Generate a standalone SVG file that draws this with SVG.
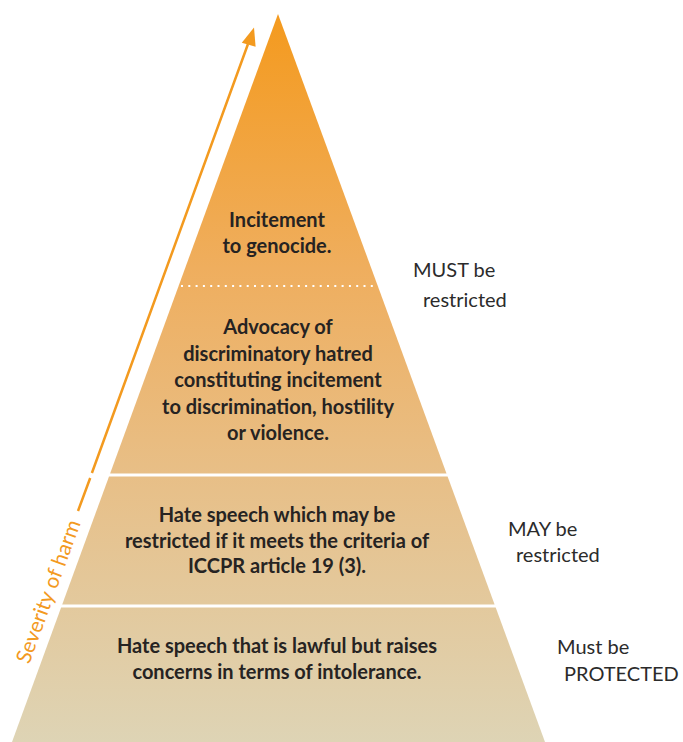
<svg xmlns="http://www.w3.org/2000/svg" width="683" height="742" viewBox="0 0 683 742">
  <style>
    .band { fill: url(#grad); }
    .lbl { font-family: Lato, "Noto Sans", sans-serif; font-weight: bold; font-size: 20px; fill: #262322; text-anchor: middle; }
    .side { font-family: Lato, "Noto Sans", sans-serif; font-size: 20px; fill: #2b2b2b; }
    .axis { font-family: Lato, "Noto Sans", sans-serif; font-size: 21px; fill: #F39A1F; text-anchor: middle; }
    .arrow { stroke: #F39A1F; stroke-width: 2.5; fill: none; }
  </style>
  <defs>
    <linearGradient id="grad" gradientUnits="userSpaceOnUse" x1="0" y1="14" x2="0" y2="742">
      <stop offset="0" stop-color="#F49A1E"/>
      <stop offset="0.35" stop-color="#EFAE5E"/>
      <stop offset="0.62" stop-color="#E8BE85"/>
      <stop offset="1" stop-color="#DED4B5"/>
    </linearGradient>
  </defs>
  <rect width="683" height="742" fill="#ffffff"/>

  <g id="band-genocide">
    <polygon class="band" points="278,14 377.8,286 178.6,286"/>
    <text class="lbl" x="277" y="227">Incitement</text>
    <text class="lbl" x="277" y="253">to genocide.</text>
  </g>
  <g id="band-advocacy">
    <polygon class="band" points="178.6,286 377.8,286 446.5,473.5 110.1,473.5"/>
    <line x1="181" y1="286" x2="377" y2="286" stroke="#ffffff" stroke-width="2" stroke-dasharray="2 5.3"/>
    <text class="lbl" x="278" y="334">Advocacy of</text>
    <text class="lbl" x="278" y="361">discriminatory hatred</text>
    <text class="lbl" x="278" y="387">constituting incitement</text>
    <text class="lbl" x="278" y="414">to discrimination, hostility</text>
    <text class="lbl" x="278" y="440">or violence.</text>
  </g>
  <g id="band-may">
    <polygon class="band" points="109,476.5 447.6,476.5 494.6,604.5 62.2,604.5"/>
    <text class="lbl" x="277" y="522">Hate speech which may be</text>
    <text class="lbl" x="277" y="548">restricted if it meets the criteria of</text>
    <text class="lbl" x="277" y="573">ICCPR article 19 (3).</text>
  </g>
  <g id="band-lawful">
    <polygon class="band" points="61.1,607.5 495.7,607.5 545,742 12,742"/>
    <text class="lbl" x="277" y="653">Hate speech that is lawful but raises</text>
    <text class="lbl" x="277" y="679">concerns in terms of intolerance.</text>
  </g>

  <g id="label-must-restricted">
    <text class="side" x="413" y="277">MUST be</text>
    <text class="side" x="423" y="307">restricted</text>
  </g>
  <g id="label-may-restricted">
    <text class="side" x="508" y="536">MAY be</text>
    <text class="side" x="516" y="562">restricted</text>
  </g>
  <g id="label-protected">
    <text class="side" x="557" y="654">Must be</text>
    <text class="side" x="564" y="681">PROTECTED</text>
  </g>

  <g id="connectors">
    <path class="arrow" d="M78,511 L90.2,478 M91.9,473 L248,44"/>
    <polygon points="254,27.5 241.8,42.7 255.6,46.7" fill="#F39A1F"/>
    <text class="axis" transform="translate(55,594) rotate(-70)">Severity of harm</text>
  </g>
</svg>
